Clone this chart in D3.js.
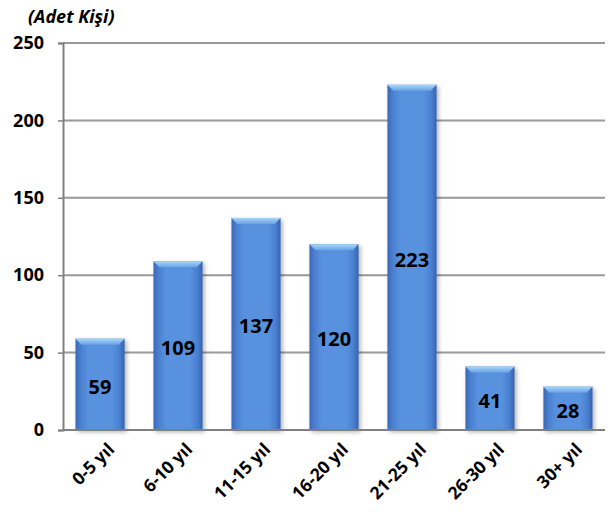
<!DOCTYPE html>
<html><head><meta charset="utf-8">
<script src="https://cdn.jsdelivr.net/npm/d3@7"></script>
<style>body{margin:0;background:#fff}svg{display:block}</style>
</head><body>
<script>
const categories = ["0-5 yıl","6-10 yıl","11-15 yıl","16-20 yıl","21-25 yıl","26-30 yıl","30+ yıl"];
const values = [59,109,137,120,223,41,28];
const yTicks = [0,50,100,150,200,250];
const unitLabel = "(Adet Kişi)";

const W = 611, H = 514;
const m = {left:63, right:6, top:43, bottom:84};
const svg = d3.select("body").append("svg").attr("width",W).attr("height",H);
const defs = svg.append("defs");
const g1 = defs.append("linearGradient").attr("id","barG").attr("x1","0").attr("x2","1").attr("y1","0").attr("y2","0");
[[0,"#3a68b6"],[0.1,"#4a7ecf"],[0.25,"#5891de"],[0.75,"#5891de"],[0.9,"#4a7ecf"],[1,"#3562ad"]].forEach(([o,c])=>g1.append("stop").attr("offset",o).attr("stop-color",c));
const g2 = defs.append("linearGradient").attr("id","capG").attr("x1","0").attr("x2","0").attr("y1","0").attr("y2","1");
[[0,"#a6d6f7"],[1,"#6aa3e6"]].forEach(([o,c])=>g2.append("stop").attr("offset",o).attr("stop-color",c));
const f = defs.append("filter").attr("id","sh").attr("x","-20%").attr("y","-10%").attr("width","150%").attr("height","130%");
f.append("feDropShadow").attr("dx",2).attr("dy",2).attr("stdDeviation",2).attr("flood-color","#000").attr("flood-opacity",0.3);

const x = d3.scaleBand().domain(categories).range([m.left, W-m.right]).paddingInner(0.37).paddingOuter(0.16);
const y = d3.scaleLinear().domain([0,250]).range([H-m.bottom, m.top]);

// gridlines
svg.append("g").selectAll("line").data(yTicks.filter(d=>d>0)).join("line")
  .attr("x1",m.left).attr("x2",W-m.right).attr("y1",d=>y(d)).attr("y2",d=>y(d))
  .attr("stroke","#999").attr("stroke-width",2);

// y axis
const ya = svg.append("g").attr("transform",`translate(${m.left},0)`)
  .call(d3.axisLeft(y).tickValues(yTicks).tickSize(5).tickPadding(14));
ya.select(".domain").attr("stroke","#808080").attr("stroke-width",2);
ya.selectAll(".tick line").attr("stroke","#808080").attr("stroke-width",1.5);
ya.selectAll("text").attr("font-family","'Open Sans', sans-serif").attr("font-weight","bold").attr("font-size",18).attr("fill","#000");

// bars
const bars = svg.append("g").selectAll("g").data(values).join("g").attr("filter","url(#sh)");
bars.append("rect").attr("x",(d,i)=>x(categories[i])).attr("width",x.bandwidth())
  .attr("y",d=>y(d)).attr("height",d=>y(0)-y(d)).attr("fill","url(#barG)");
bars.append("path").attr("d",(d,i)=>{
  const x0=x(categories[i]), w=x.bandwidth(), t=y(d);
  return `M${x0},${t}L${x0+w},${t}L${x0+w-6},${t+6}L${x0+6},${t+6}Z`;
}).attr("fill","url(#capG)");

// x axis
const xa = svg.append("g").attr("transform",`translate(0,${y(0)})`)
  .call(d3.axisBottom(x).tickSize(0).tickPadding(10));
xa.select(".domain").attr("stroke","#808080").attr("stroke-width",2).attr("d",`M${m.left},0H${W-m.right}`);
xa.selectAll("text").attr("font-family","'Open Sans', sans-serif").attr("font-weight","bold").attr("font-size",17.5).attr("fill","#000")
  .attr("text-anchor","end").attr("dy","0.35em").attr("transform","translate(4,9) rotate(-45)");

// value labels
svg.append("g").selectAll("text").data(values).join("text")
  .attr("x",(d,i)=>x(categories[i])+x.bandwidth()/2).attr("y",d=>(y(d)+y(0))/2+4)
  .attr("text-anchor","middle").attr("dominant-baseline","middle")
  .attr("font-family","'Open Sans', sans-serif").attr("font-weight","bold").attr("font-size",20).attr("fill","#000")
  .text(d=>d);

svg.append("text").attr("x",28).attr("y",23).text(unitLabel)
  .attr("font-family","'Open Sans', sans-serif").attr("font-weight","bold").attr("font-style","italic").attr("font-size",18);
</script>
</body></html>
